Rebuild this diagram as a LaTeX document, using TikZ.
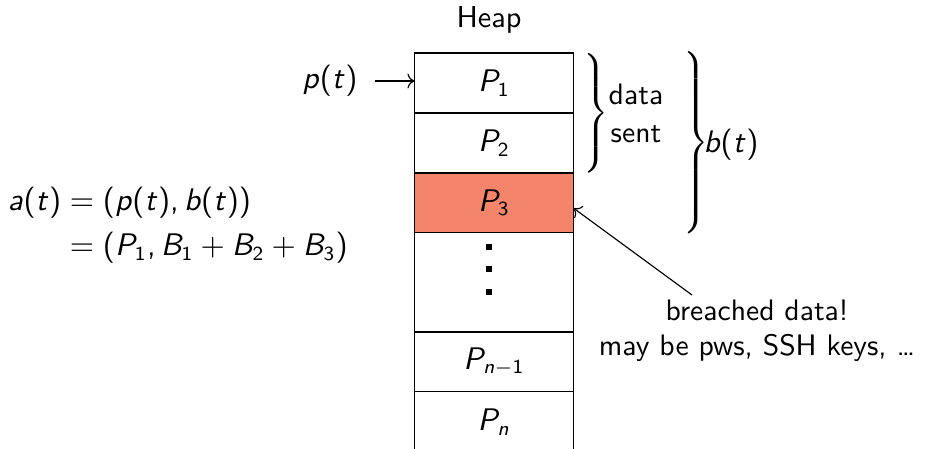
\documentclass[tikz,border=0pt]{standalone}
\usepackage{amsmath}
\usepackage{graphicx}
\usetikzlibrary{arrows.meta}
\definecolor{breach}{RGB}{244,133,106}
\DeclareMathVersion{sfm}
\SetSymbolFont{operators}{sfm}{OT1}{cmss}{m}{n}
\SetSymbolFont{letters}{sfm}{OT1}{cmss}{m}{sl}
\begin{document}
\delimitershortfall=0pt
\delimiterfactor=1000
\mathcode`\,="602C
\begin{tikzpicture}[x=0.3509pt,y=-0.3509pt,
  every node/.style={font=\sffamily\mathversion{sfm}\fontsize{10.6}{12.7}\selectfont},
  cell/.style={draw, minimum width=55.8pt, inner sep=0pt, outer sep=0pt, anchor=north},
  bracenode/.style={inner sep=0pt, outer sep=0pt, anchor=west, font=\fontsize{10}{12}\selectfont},
  twoline/.style={align=center, font=\sffamily\mathversion{sfm}\fontsize{10.4}{12.3}\selectfont},
  dotsq/.style={fill=black}
  ]
\useasboundingbox (0,0) rectangle (939,448);
% heap column
\node[cell, minimum height=21.05pt] (P1) at (494,53) {$P_1$};
\node[cell, minimum height=21.05pt] (P2) at (P1.south) {$P_2$};
\node[cell, minimum height=20.88pt, fill=breach] (P3) at (P2.south) {$P_3$};
\node[cell, minimum height=34.91pt] (Pd) at (P3.south) {};
\node[cell, minimum height=20.88pt] (Pm) at (Pd.south) {$P_{n-1}$};
\node[cell, minimum height=21.4pt] (Pn) at (Pm.south) {$P_n$};
% vertical dots
\fill[dotsq] (486,244) rectangle ++(6,6);
\fill[dotsq] (486,266) rectangle ++(6,6);
\fill[dotsq] (486,289) rectangle ++(6,6);
% title
\node (heap) at (489,20) {Heap};
% pointer
\node (pt) at (330,81) {$p(t)$};
\draw[->, shorten <=2.6pt] (pt.east) -- (pt.east -| P1.west);
% braces
\node[bracenode] (br1) at (579.6,113) {$\left.\vcenter{\hbox{\rule{0pt}{41.5pt}}}\right\}$};
\node[twoline, font=\sffamily\fontsize{10.4}{13.3}\selectfont] (sent) at (636,113) {data\\sent};
\node[bracenode] (br2) at (679.6,143) {\scalebox{1}[1.065]{$\left.\vcenter{\hbox{\rule{0pt}{58.5pt}}}\right\}$}};
\node (bt) at (731,145) {$b(t)$};
% equation
\node (eq) at (178,226) {$\begin{aligned} a(t) &= (p(t), b(t))\\ &= (P_1, B_1 + B_2 + B_3)\end{aligned}$};
% breached note
\node[twoline] (note) at (757,331) {breached data!\\may be pws, SSH keys, \dots};
\coordinate (nstart) at (692,295);
\draw[->] (nstart) -- ([yshift=-1.9pt]P3.east);
\end{tikzpicture}
\end{document}
